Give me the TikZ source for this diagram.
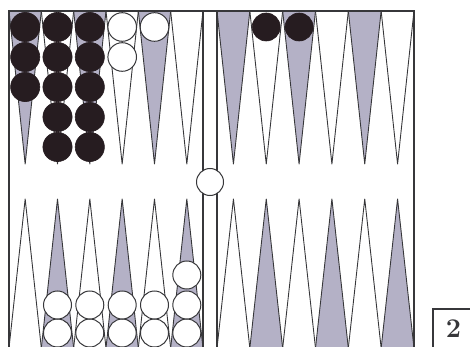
\documentclass[tikz,border=0pt]{standalone}
\definecolor{pointgray}{RGB}{180,177,198}
\definecolor{linegray}{RGB}{55,55,58}
\definecolor{stoneblack}{RGB}{38,28,32}
\tikzset{
  point/.style={draw=linegray,line width=0.9pt,line join=round},
  blackstone/.style={fill=stoneblack,draw=stoneblack,line width=0.6pt},
  whitestone/.style={fill=white,draw=linegray,line width=1pt}
}
\begin{document}
\begin{tikzpicture}[x=1pt,y=-1pt]
  \useasboundingbox (0,0) rectangle (470,347);
  % Points, top row grey on odd points, bottom row on even points
  \foreach \i in {0,...,5} {
    \pgfmathsetmacro{\xl}{9+32.33*\i}
    \pgfmathsetmacro{\xr}{217+32.83*\i}
    \pgfmathtruncatemacro{\odd}{mod(\i,2)}
    \ifnum\odd=0
      \filldraw[point,fill=pointgray] (\xl,11) -- (\xl+16.17,164) -- (\xl+32.33,11);
      \filldraw[point,fill=pointgray] (\xr,11) -- (\xr+16.42,164) -- (\xr+32.83,11);
      \draw[point] (\xl,348) -- (\xl+16.17,199) -- (\xl+32.33,348);
      \draw[point] (\xr,348) -- (\xr+16.42,199) -- (\xr+32.83,348);
    \else
      \draw[point] (\xl,11) -- (\xl+16.17,164) -- (\xl+32.33,11);
      \draw[point] (\xr,11) -- (\xr+16.42,164) -- (\xr+32.83,11);
      \filldraw[point,fill=pointgray] (\xl,348) -- (\xl+16.17,199) -- (\xl+32.33,348);
      \filldraw[point,fill=pointgray] (\xr,348) -- (\xr+16.42,199) -- (\xr+32.83,348);
    \fi
  }
  % Board frame and bar
  \draw[linegray,line width=1.7pt] (9,348) -- (9,11) -- (414,11) -- (414,348);
  \draw[linegray,line width=1.3pt] (203,11) -- (203,348);
  \draw[linegray,line width=1.3pt] (217,11) -- (217,348);
  % Black stones
  \foreach \y in {27,57,87} \draw[blackstone] (25.2,\y) circle (14.6);
  \foreach \y in {27,57,87,117,147} {
    \draw[blackstone] (57.5,\y) circle (14.6);
    \draw[blackstone] (89.8,\y) circle (14.6);
  }
  \draw[blackstone] (266.2,27) circle (14);
  \draw[blackstone] (299.1,27) circle (14);
  % White stones
  \draw[whitestone] (122.2,27) circle (14.3);
  \draw[whitestone] (122.2,57) circle (14.3);
  \draw[whitestone] (154.5,27) circle (14.3);
  \draw[whitestone] (210,182) circle (13.5);
  \foreach \x in {57.5,89.8,122.2,154.5,186.8} {
    \draw[whitestone] (\x,333) circle (14);
    \draw[whitestone] (\x,305) circle (14);
  }
  \draw[whitestone] (186.8,275) circle (14);
  % Diagram number
  \draw[linegray,line width=1.4pt] (472,309) -- (433,309) -- (433,350);
  \node[font=\fontsize{27}{27}\selectfont\bfseries,text=linegray] (num) at (453.5,329) {2};
\end{tikzpicture}
\end{document}
